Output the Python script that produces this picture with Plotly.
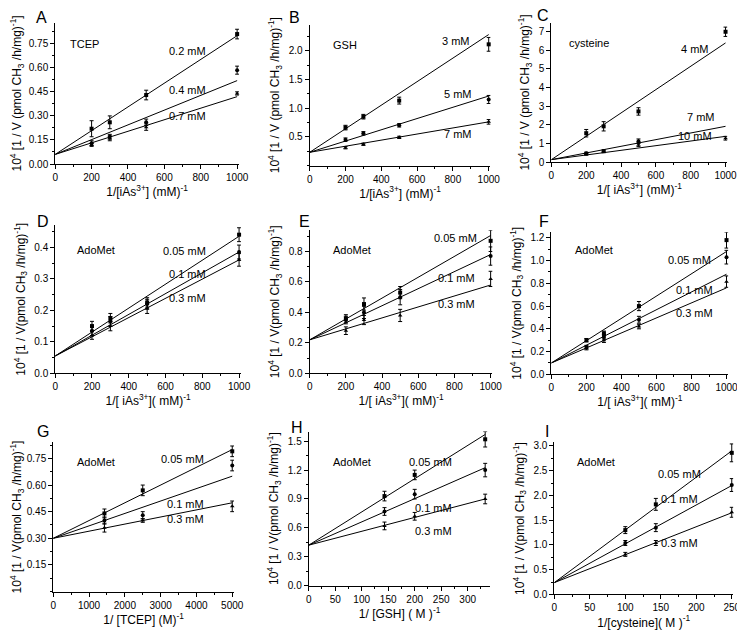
import plotly.graph_objects as go

W, H = 745, 631

# ---------------- data ----------------
ias_x = [200, 300, 500, 1000]

A_labels = ["0.2 mM", "0.4 mM", "0.7 mM"]
A_y = [[0.22, 0.26, 0.43, 0.81], [0.13, 0.17, 0.26, 0.585], [0.12, 0.16, 0.23, 0.44]]
A_err = [[0.05, 0.04, 0.03, 0.03], [0.015, 0.015, 0.02, 0.025], [0.01, 0.015, 0.02, 0.01]]
A_fit0 = 0.06
A_fit1 = [0.80, 0.52, 0.42]

B_labels = ["3 mM", "5 mM", "7 mM"]
B_y = [[0.66, 0.85, 1.13, 2.11], [0.45, 0.56, 0.70, 1.15], [0.31, 0.37, 0.49, 0.76]]
B_err = [[0.04, 0.04, 0.06, 0.12], [0.03, 0.03, 0.03, 0.07], [0.02, 0.02, 0.02, 0.04]]
B_fit0 = 0.23
B_fit1 = [2.28, 1.21, 0.76]

C_labels = ["4 mM", "7 mM", "10 mM"]
C_y = [[1.55, 1.92, 2.72, 7.0], [0.47, 0.60, 1.12, None], [0.42, 0.55, 0.93, 1.28]]
C_err = [[0.2, 0.25, 0.2, 0.25], [0.06, 0.06, 0.12, None], [0.05, 0.05, 0.1, 0.1]]
C_fit0 = 0.13
C_fit1 = [6.4, 1.92, 1.38]

ado_labels = ["0.05 mM", "0.1 mM", "0.3 mM"]

D_y = [[0.15, 0.175, 0.225, 0.44], [0.135, 0.165, 0.22, 0.385], [0.12, 0.15, 0.205, 0.36]]
D_err = [[0.015, 0.015, 0.015, 0.022], [0.015, 0.015, 0.015, 0.022], [0.012, 0.015, 0.015, 0.02]]
D_fit0 = 0.055
D_fit1 = [0.435, 0.385, 0.36]

E_y = [[0.36, 0.455, 0.53, 0.87], [0.35, 0.40, 0.50, 0.77], [0.28, 0.35, 0.38, 0.62]]
E_err = [[0.025, 0.04, 0.04, 0.07], [0.025, 0.04, 0.05, 0.06], [0.025, 0.03, 0.04, 0.05]]
E_fit0 = 0.22
E_fit1 = [0.905, 0.78, 0.58]

F_y = [[0.30, 0.36, 0.60, 1.18], [0.24, 0.33, 0.48, 1.03], [0.23, 0.30, 0.42, 0.815]]
F_err = [[0.015, 0.02, 0.04, 0.07], [0.015, 0.02, 0.03, 0.06], [0.015, 0.02, 0.02, 0.05]]
F_fit0 = 0.10
F_fit1 = [1.08, 0.88, 0.76]

G_x = [1430, 2500, 5000]
G_y = [[0.44, 0.57, 0.79], [0.40, 0.43, 0.71], [0.36, 0.40, 0.48]]
G_err = [[0.025, 0.03, 0.03], [0.02, 0.02, 0.03], [0.025, 0.01, 0.03]]
G_fit0 = 0.30
G_fit1 = [0.80, 0.65, 0.50]

H_x = [143, 200, 333]
H_y = [[0.93, 1.15, 1.52], [0.77, 0.95, 1.20], [0.62, 0.72, 0.90]]
H_err = [[0.05, 0.05, 0.08], [0.04, 0.05, 0.07], [0.04, 0.04, 0.05]]
H_fit0 = 0.42
H_fit1 = [1.57, 1.225, 0.90]

I_x = [100, 143, 250]
I_y = [[1.30, 1.82, 2.86], [1.04, 1.35, 2.21], [0.81, 1.04, 1.66]]
I_err = [[0.07, 0.12, 0.18], [0.05, 0.08, 0.13], [0.04, 0.05, 0.10]]
I_fit0 = 0.24
I_fit1 = [2.90, 2.20, 1.65]

YT1 = "10<sup>4</sup> [1 / V (pmol CH<sub>3</sub> /h/mg)<sup>-1</sup>]"
YT2 = "10<sup>4</sup> [1 / V(pmol CH<sub>3</sub> /h/mg)<sup>-1</sup>]"

panels = [
    dict(L="A", x=ias_x, y=A_y, e=A_err, f0=A_fit0, f1=A_fit1, xm=1000, lab=A_labels, comp="TCEP",
         xt="1/[iAs<sup>3+</sup>] (mM)<sup>-1</sup>", yt=YT1,
         box=(45, 232, 156, 13), xr=[0, 1010], yr=[0, 0.88],
         xtk=[0, 200, 400, 600, 800, 1000], ytk=[0, 0.15, 0.30, 0.45, 0.60, 0.75], fmt=".2f",
         xmin=100, ymin=0.075, Lp=(31, 8), cp=(75, 34), lp=[(180, 42), (180, 81), (180, 107)]),
    dict(L="B", x=ias_x, y=B_y, e=B_err, f0=B_fit0, f1=B_fit1, xm=1000, lab=B_labels, comp="GSH",
         xt="1/[iAs<sup>3+</sup>] (mM)<sup>-1</sup>", yt=YT1,
         box=(304, 488, 157.5, 15), xr=[0, 1010], yr=[0, 2.45],
         xtk=[0, 200, 400, 600, 800, 1000], ytk=[0.5, 1.0, 1.5, 2.0], fmt=".1f",
         xmin=100, ymin=0.25, Lp=(289, 8), cp=(340, 35), lp=[(453, 31), (455, 85), (455, 126)]),
    dict(L="C", x=ias_x, y=C_y, e=C_err, f0=C_fit0, f1=C_fit1, xm=1000, lab=C_labels, comp="cysteine",
         xt="1/[ iAs<sup>3+</sup>] (mM)<sup>-1</sup>", yt=YT1,
         box=(550, 729, 154, 13), xr=[0, 1010], yr=[0, 7.48],
         xtk=[0, 200, 400, 600, 800, 1000], ytk=[0, 1, 2, 3, 4, 5, 6, 7], fmt="d",
         xmin=100, ymin=None, Lp=(541, 6), cp=(588, 33), lp=[(696, 40), (702, 108), (696, 128)]),
    dict(L="D", x=ias_x, y=D_y, e=D_err, f0=D_fit0, f1=D_fit1, xm=1000, lab=ado_labels, comp="AdoMet",
         xt="1/[ iAs<sup>3+</sup>]( mM)<sup>-1</sup>", yt=YT2,
         box=(45, 234, 368, 218), xr=[0, 1010], yr=[0, 0.47],
         xtk=[0, 200, 400, 600, 800, 1000], ytk=[0, 0.1, 0.2, 0.3, 0.4], fmt=".1f",
         xmin=100, ymin=0.05, Lp=(33, 214), cp=(87, 243), lp=[(177, 244), (180, 267), (180, 292)]),
    dict(L="E", x=ias_x, y=E_y, e=E_err, f0=E_fit0, f1=E_fit1, xm=1000, lab=ado_labels, comp="AdoMet",
         xt="1/[ iAs<sup>3+</sup>]( mM)<sup>-1</sup>", yt=YT2,
         box=(304, 490, 368, 223), xr=[0, 1010], yr=[0, 0.94],
         xtk=[0, 200, 400, 600, 800, 1000], ytk=[0, 0.2, 0.4, 0.6, 0.8], fmt=".1f",
         xmin=100, ymin=0.1, Lp=(299, 214), cp=(347, 243), lp=[(452, 231), (453, 271), (453, 298)]),
    dict(L="F", x=ias_x, y=F_y, e=F_err, f0=F_fit0, f1=F_fit1, xm=1000, lab=ado_labels, comp="AdoMet",
         xt="1/[ iAs<sup>3+</sup>]( mM)<sup>-1</sup>", yt=YT2,
         box=(550, 730, 369, 225), xr=[0, 1010], yr=[0, 1.25],
         xtk=[0, 200, 400, 600, 800, 1000], ytk=[0, 0.2, 0.4, 0.6, 0.8, 1.0, 1.2], fmt=".1f",
         xmin=100, ymin=0.1, Lp=(542, 214), cp=(593, 243), lp=[(691, 253), (696, 284), (696, 307)]),
    dict(L="G", x=G_x, y=G_y, e=G_err, f0=G_fit0, f1=G_fit1, xm=5000, lab=ado_labels, comp="AdoMet",
         xt="1/ [TCEP] (M)<sup>-1</sup>", yt=YT2,
         box=(43, 227, 589, 438), xr=[0, 5050], yr=[0, 0.84],
         xtk=[0, 1000, 2000, 3000, 4000, 5000], ytk=[0.15, 0.30, 0.45, 0.60, 0.75], fmt=".2f",
         xmin=500, ymin=0.075, Lp=(33, 427), cp=(87, 458), lp=[(175, 455), (178, 500), (178, 516)]),
    dict(L="H", x=H_x, y=H_y, e=H_err, f0=H_fit0, f1=H_fit1, xm=333, lab=ado_labels, comp="AdoMet",
         xt="1/ [GSH] ( M )<sup>-1</sup>", yt=YT2,
         box=(303, 488, 583, 427), xr=[0, 343], yr=[0, 1.6],
         xtk=[0, 50, 100, 150, 200, 250, 300], ytk=[0, 0.3, 0.6, 0.9, 1.2, 1.5], fmt=".1f",
         xmin=25, ymin=0.15, Lp=(291, 423), cp=(347, 458), lp=[(427, 458), (430, 504), (430, 528)]),
    dict(L="I", x=I_x, y=I_y, e=I_err, f0=I_fit0, f1=I_fit1, xm=250, lab=ado_labels, comp="AdoMet",
         xt="1/[cysteine]( M )<sup>-1</sup>", yt=YT2,
         box=(553, 735, 592, 438), xr=[0, 252], yr=[0, 3.07],
         xtk=[0, 50, 100, 150, 200, 250], ytk=[0, 0.5, 1.0, 1.5, 2.0, 2.5, 3.0], fmt=".1f",
         xmin=25, ymin=0.25, Lp=(546, 427), cp=(595, 458), lp=[(680, 470), (680, 495), (680, 540)]),
]

FONT = "Liberation Sans, Arial, sans-serif"
symbols = ["square", "circle", "triangle-up"]

fig = go.Figure()
layout = dict(width=W, height=H, margin=dict(l=0, r=0, t=0, b=0), showlegend=False,
              paper_bgcolor="white", plot_bgcolor="white",
              font=dict(family=FONT, color="black", size=10))
annotations = []


def px(xp, yp):
    return xp / W, 1 - yp / H


for i, p in enumerate(panels):
    n = i + 1
    xa = "x" if n == 1 else f"x{n}"
    ya = "y" if n == 1 else f"y{n}"
    x0, x1, yb, yt = p["box"]
    for k in range(3):
        fig.add_trace(go.Scatter(x=[0, p["xm"]], y=[p["f0"], p["f1"][k]], mode="lines",
                                 line=dict(color="black", width=1), xaxis=xa, yaxis=ya,
                                 hoverinfo="skip", cliponaxis=False))
        fig.add_trace(go.Scatter(x=p["x"], y=p["y"][k], mode="markers",
                                 marker=dict(symbol=symbols[k], size=4, color="black"),
                                 error_y=dict(type="data", array=p["e"][k], color="black",
                                              thickness=1, width=2),
                                 xaxis=xa, yaxis=ya, cliponaxis=False))
    axcommon = dict(showline=True, linecolor="black", linewidth=1, ticks="outside", ticklen=4,
                    tickcolor="black", tickwidth=1, showgrid=False, zeroline=False,
                    tickfont=dict(size=10, family=FONT), mirror=False)
    xminor = dict(tickmode="linear", tick0=0, dtick=p["xmin"], ticklen=2, tickcolor="black",
                  showgrid=False)
    layout["xaxis" if n == 1 else f"xaxis{n}"] = dict(
        axcommon, domain=[x0 / W, x1 / W], range=p["xr"], anchor=ya,
        tickmode="array", tickvals=p["xtk"], minor=xminor,
        title=dict(text=p["xt"], font=dict(size=12, family=FONT), standoff=4))
    ydict = dict(axcommon, domain=[1 - yb / H, 1 - yt / H], range=p["yr"], anchor=xa,
                 tickmode="array", tickvals=p["ytk"], tickformat=p["fmt"],
                 title=dict(text=p["yt"], font=dict(size=12, family=FONT), standoff=6))
    if p["ymin"]:
        ydict["minor"] = dict(tickmode="linear", tick0=0, dtick=p["ymin"], ticklen=2,
                              tickcolor="black", showgrid=False)
    layout["yaxis" if n == 1 else f"yaxis{n}"] = ydict
    lx, ly = px(*p["Lp"])
    annotations.append(dict(text=p["L"], x=lx, y=ly, xref="paper", yref="paper",
                            showarrow=False, font=dict(size=16, family=FONT),
                            xanchor="center", yanchor="middle"))
    cx, cy = px(*p["cp"])
    annotations.append(dict(text=p["comp"], x=cx, y=cy, xref="paper", yref="paper",
                            showarrow=False, font=dict(size=11, family=FONT),
                            xanchor="center", yanchor="middle"))
    for k in range(3):
        lx, ly = px(*p["lp"][k])
        annotations.append(dict(text=p["lab"][k], x=lx, y=ly, xref="paper", yref="paper",
                                showarrow=False, font=dict(size=11, family=FONT),
                                xanchor="center", yanchor="middle"))

layout["annotations"] = annotations
fig.update_layout(**layout)
fig.write_html("out.html")
